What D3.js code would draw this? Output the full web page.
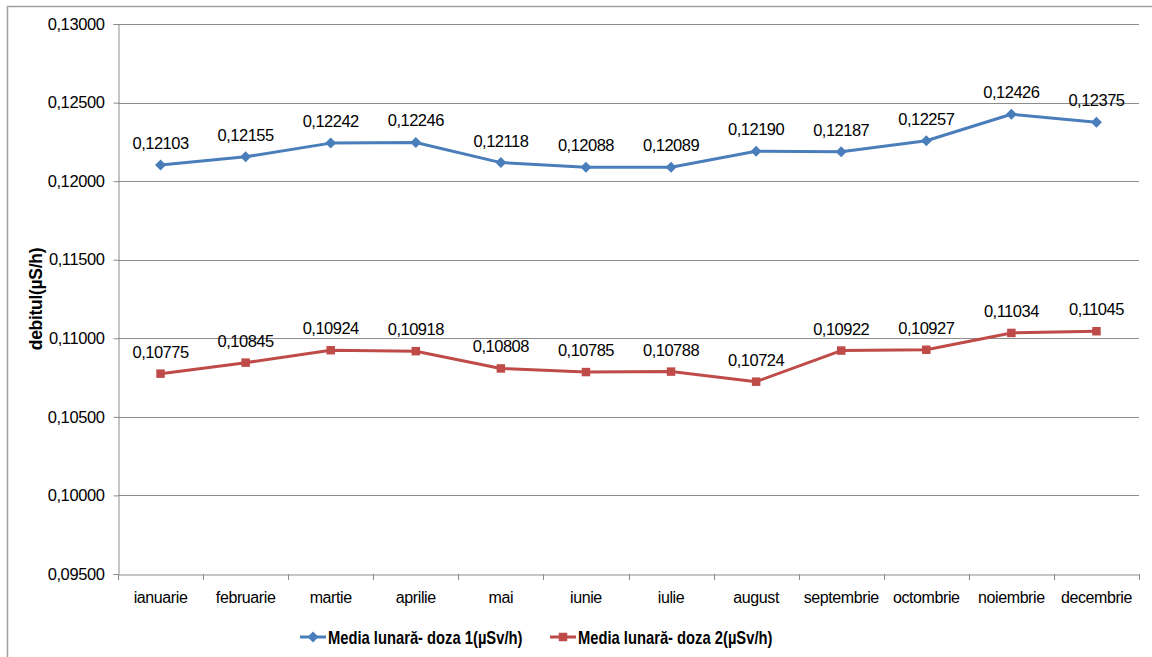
<!DOCTYPE html>
<html>
<head>
<meta charset="utf-8">
<script src="https://cdn.jsdelivr.net/npm/d3@7"></script>
<style>
  body { margin: 0; background: #fff; }
  svg { display: block; font-family: "Liberation Sans", Arial, sans-serif; }
</style>
</head>
<body>
<div id="chart"></div>
<script>
// Luni si valorile medii lunare
const months = ["ianuarie", "februarie", "martie", "aprilie", "mai", "iunie",
  "iulie", "august", "septembrie", "octombrie", "noiembrie", "decembrie"];
const doza1 = [0.12103, 0.12155, 0.12242, 0.12246, 0.12118, 0.12088,
  0.12089, 0.12190, 0.12187, 0.12257, 0.12426, 0.12375];
const doza2 = [0.10775, 0.10845, 0.10924, 0.10918, 0.10808, 0.10785,
  0.10788, 0.10724, 0.10922, 0.10927, 0.11034, 0.11045];
const yTicks = [0.095, 0.100, 0.105, 0.110, 0.115, 0.120, 0.125, 0.130];
const seriesNames = ["Media lunară- doza 1(µSv/h)", "Media lunară- doza 2(µSv/h)"];

const width = 1152, height = 657;
const margin = { top: 24, right: 13, bottom: 83, left: 118 };
const fmt = v => v.toFixed(5).replace(".", ",");

const svg = d3.select("#chart").append("svg")
  .attr("width", width).attr("height", height);

// Chenar exterior
svg.append("rect")
  .attr("x", 7.5).attr("y", 6.5)
  .attr("width", 1160).attr("height", 700)
  .attr("fill", "none").attr("stroke", "#a0a0a0").attr("stroke-width", 1.5);

const x = d3.scaleBand().domain(months)
  .range([margin.left, width - margin.right]).padding(0);
const y = d3.scaleLinear().domain([0.095, 0.130])
  .range([height - margin.bottom, margin.top]);

// Grid orizontal
svg.append("g").selectAll("line")
  .data(yTicks.slice(1))
  .join("line")
  .attr("x1", margin.left).attr("x2", width - margin.right)
  .attr("y1", d => Math.round(y(d)) + 0.5).attr("y2", d => Math.round(y(d)) + 0.5)
  .attr("stroke", "#8c8c8c").attr("stroke-width", 1);

// Axa Y
const yAxis = svg.append("g")
  .attr("transform", `translate(${margin.left + 0.5},0)`)
  .call(d3.axisLeft(y).tickValues(yTicks).tickFormat(fmt).tickSize(5).tickPadding(9));
yAxis.select(".domain").attr("stroke", "#8c8c8c");
yAxis.selectAll(".tick line").attr("stroke", "#8c8c8c");
yAxis.selectAll("text").attr("font-size", 16.5).attr("fill", "#000")
  .attr("letter-spacing", "-0.4")
  .attr("font-family", "Liberation Sans, Arial, sans-serif");

// Axa X
const xAxis = svg.append("g")
  .attr("transform", `translate(0,${height - margin.bottom + 0.5})`)
  .call(d3.axisBottom(x).tickSize(0).tickPadding(17));
xAxis.select(".domain").attr("stroke", "#8c8c8c");
xAxis.selectAll("text").attr("font-size", 16).attr("fill", "#000")
  .attr("letter-spacing", "-0.4")
  .attr("font-family", "Liberation Sans, Arial, sans-serif");
// liniutele dintre categorii
svg.append("g").selectAll("line")
  .data(d3.range(months.length + 1))
  .join("line")
  .attr("x1", i => Math.round(margin.left + i * x.bandwidth()) + 0.5)
  .attr("x2", i => Math.round(margin.left + i * x.bandwidth()) + 0.5)
  .attr("y1", height - margin.bottom).attr("y2", height - margin.bottom + 6)
  .attr("stroke", "#8c8c8c");

// Titlu axa Y
svg.append("text")
  .attr("transform", `translate(42,${(margin.top + height - margin.bottom) / 2}) rotate(-90)`)
  .attr("text-anchor", "middle")
  .attr("font-size", 17.5).attr("font-weight", "bold")
  .attr("letter-spacing", "-0.3")
  .text("debitul(µS/h)");

const cx = (d, i) => x(months[i]) + x.bandwidth() / 2;
// romb lat cat inalt, ca in Excel
const diamond = { draw(ctx, size) { const r = Math.sqrt(size) / 2;
  ctx.moveTo(0, -r); ctx.lineTo(r, 0); ctx.lineTo(0, r); ctx.lineTo(-r, 0); ctx.closePath(); } };
const series = [
  { values: doza1, color: "#4a7ebb", shape: diamond, size: 121 },
  { values: doza2, color: "#be4b48", shape: d3.symbolSquare, size: 72 }
];

series.forEach(s => {
  const line = d3.line().x(cx).y(d => y(d));
  svg.append("path")
    .datum(s.values)
    .attr("fill", "none").attr("stroke", s.color).attr("stroke-width", 3)
    .attr("stroke-linejoin", "round")
    .attr("d", line);

  svg.append("g").selectAll("path")
    .data(s.values)
    .join("path")
    .attr("transform", (d, i) => `translate(${cx(d, i)},${y(d)})`)
    .attr("d", d3.symbol().type(s.shape).size(s.size))
    .attr("fill", s.color);

  svg.append("g").selectAll("text")
    .data(s.values)
    .join("text")
    .attr("x", cx)
    .attr("y", d => y(d) - 16)
    .attr("text-anchor", "middle")
    .attr("font-size", 16.5)
    .attr("letter-spacing", "-0.5")
    .text(fmt);
});

// Legenda (text ingustat, ca in original)
const legendX = [300, 550];
series.forEach((s, i) => {
  const g = svg.append("g").attr("transform", `translate(${legendX[i]},637)`);
  g.append("line").attr("x1", 0).attr("x2", 26).attr("y1", 0).attr("y2", 0)
    .attr("stroke", s.color).attr("stroke-width", 3);
  g.append("path").attr("transform", "translate(13,0)")
    .attr("d", d3.symbol().type(s.shape).size(s.size)).attr("fill", s.color);
  g.append("text").attr("transform", "translate(28,7) scale(0.82,1)")
    .attr("font-size", 18).attr("font-weight", "bold")
    .text(seriesNames[i]);
});
</script>
</body>
</html>
